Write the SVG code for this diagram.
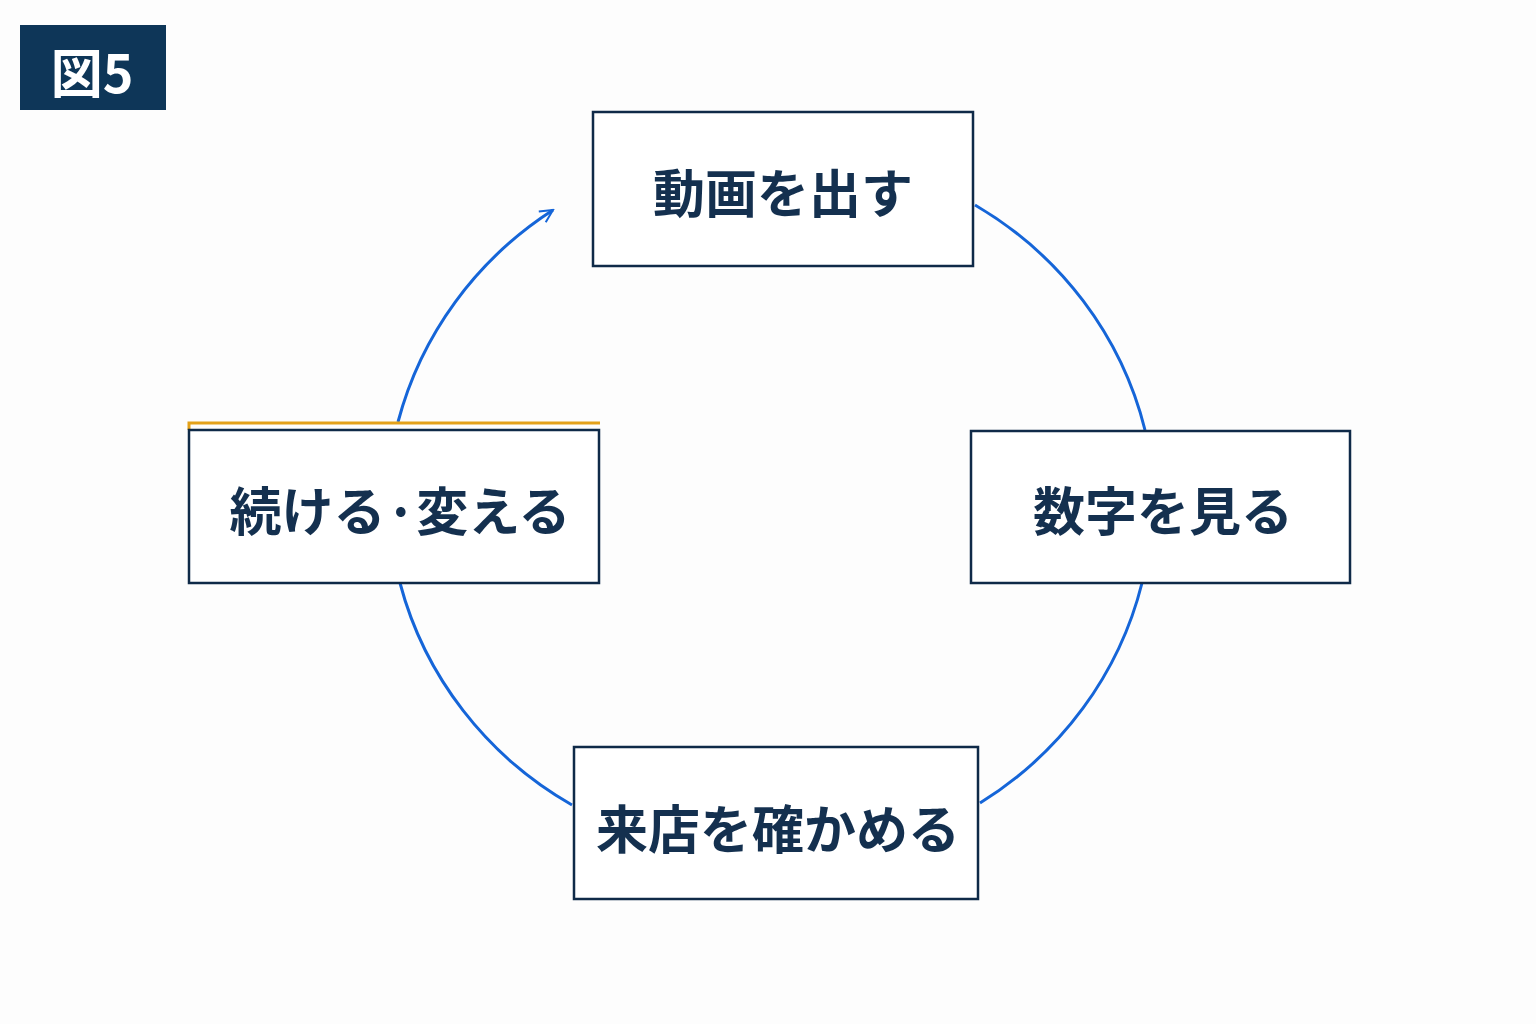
<svg xmlns="http://www.w3.org/2000/svg" width="1536" height="1024" viewBox="0 0 1536 1024">
<style>
.box{fill:#fff;stroke:#0f2a48;stroke-width:2.5}
.lbl{font-family:"Noto Sans CJK JP",sans-serif;font-weight:700;font-size:52px;fill:#14304f;text-anchor:middle;dominant-baseline:central}
.arc{fill:none;stroke:#1565d8;stroke-width:3}
</style>
<defs>
<marker id="ah" viewBox="0 0 20 20" refX="18" refY="10" markerWidth="16" markerHeight="16" markerUnits="userSpaceOnUse" orient="auto"><path d="M2,2 L18,10 L2,18" fill="none" stroke="#1565d8" stroke-width="2.5"/></marker>
</defs>
<rect width="1536" height="1024" fill="#fdfdfd"/>
<g id="title"><rect x="20" y="25" width="146" height="85" fill="#0e3658"/><text x="92" y="70" font-family="Noto Sans CJK JP,sans-serif" font-weight="700" font-size="52" fill="#fff" text-anchor="middle" dominant-baseline="central">図5</text></g>
<g id="connectors">
<path class="arc" d="M975,205 A373,362 0 0 1 1145,430"/>
<path class="arc" d="M1142,583 A373,362 0 0 1 980,803"/>
<path class="arc" d="M572,805 A373,362 0 0 1 400,583"/>
<path class="arc" d="M398,422 A373,362 0 0 1 553,210" marker-end="url(#ah)"/>
<path d="M189,430 V423 H600" fill="none" stroke="#e3a11a" stroke-width="3"/>
</g>
<g id="n1"><rect class="box" x="593" y="112" width="380" height="154"/><text class="lbl" x="783" y="190">動画を出す</text></g>
<g id="n2"><rect class="box" x="971" y="431" width="379" height="152"/><text class="lbl" x="1163" y="508">数字を見る</text></g>
<g id="n3"><rect class="box" x="574" y="747" width="404" height="152"/><text class="lbl" x="778" y="826">来店を確かめる</text></g>
<g id="n4"><rect class="box" x="189" y="430" width="410" height="153"/><text class="lbl" x="400" y="508">続ける·変える</text></g>
</svg>
